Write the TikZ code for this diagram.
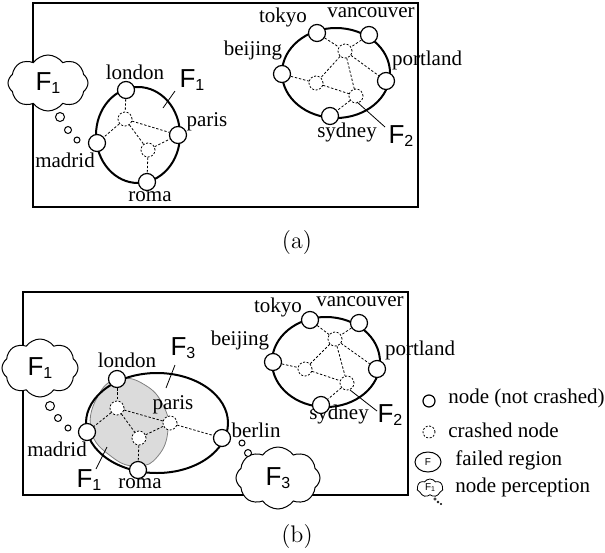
\documentclass[tikz,border=0pt]{standalone}
\usepackage{fontspec}
\setsansfont{Liberation Sans}
\newfontfamily\lblfont{Liberation Serif}
\usetikzlibrary{shapes.symbols, shapes.geometric}

\newcommand{\fail}[1]{{\sffamily\fontsize{13}{15}\selectfont F\raisebox{-0.12em}{\fontsize{8}{9}\selectfont #1}}}
\newcommand{\smallfail}[1]{{\sffamily\fontsize{5}{6}\selectfont F\raisebox{-0.1em}{\fontsize{3.5}{4}\selectfont #1}}}

\begin{document}
\begin{tikzpicture}[
		x=0.5pt, y=-0.5pt,
		alive/.style={circle, draw, fill=white, line width=0.6pt, minimum size=8.5pt, inner sep=0pt},
		dead/.style={circle, draw, fill=white, dash pattern=on 1pt off 0.8pt, line width=0.4pt, minimum size=7pt, inner sep=0pt},
		link/.style={dash pattern=on 1.2pt off 0.9pt, line width=0.4pt},
		region/.style={line width=1pt},
		panel/.style={line width=0.7pt},
		lbl/.style={font=\lblfont\fontsize{10.5}{12}\selectfont, inner sep=0pt},
		lead/.style={line width=0.4pt},
		thought/.style={cloud, cloud puffs=8, cloud puff arc=110, draw, fill=white, line width=0.5pt, inner sep=0pt},
		bubble/.style={draw, fill=white, line width=0.5pt}
		]
		\useasboundingbox (0,0) rectangle (605,552);
		
		% ---------- (a) ----------
		\draw[panel] (33,3) rectangle (418,207);
		
		% left region
		\draw[region] (138,135) ellipse [x radius=42, y radius=48];
		\node[lbl] (la-london-l) at (135,72) {london};
		\node[lbl] (la-paris-l) at (207,122) {paris};
		\node[lbl] (la-madrid-l) at (65,160) {madrid};
		\node[lbl] (la-roma-l) at (150,197) {roma};
		\node[alive] (la-london) at (126,90) {};
		\node[alive] (la-paris) at (178,135) {};
		\node[alive] (la-madrid) at (97,143) {};
		\node[alive] (la-roma) at (147,182) {};
		\node[dead] (la-x1) at (125,119) {};
		\node[dead] (la-x2) at (148,150) {};
		\draw[link] (la-london) -- (la-x1);
		\draw[link] (la-x1) -- (la-madrid);
		\draw[link] (la-x1) -- (la-paris);
		\draw[link] (la-x1) -- (la-x2);
		\draw[link] (la-x2) -- (la-paris);
		\draw[link] (la-x2) -- (la-roma);
		\node[inner sep=0pt] (la-f1) at (192,80) {\fail{1}};
		\coordinate (la-f1-a) at (175,91);
		\coordinate (la-f1-b) at (163,108);
		\draw[lead] (la-f1-a) -- (la-f1-b);
		
		% thought of madrid
		\node[thought, minimum width=40pt, minimum height=28pt] (la-cloud) at (48,83) {\fail{1}};
		\draw[bubble] (60,117) circle (4.5);
		\draw[bubble] (68,130) circle (3.5);
		\draw[bubble] (77,140) circle (3);
		
		% right region
		\draw[region] (336,73) ellipse [x radius=54, y radius=45];
		\node[lbl] (ra-tokyo-l) at (283,17) {tokyo};
		\node[lbl] (ra-vancouver-l) at (371,13) {vancouver};
		\node[lbl] (ra-beijing-l) at (253,50) {beijing};
		\node[lbl] (ra-portland-l) at (427,60) {portland};
		\node[lbl] (ra-sydney-l) at (347,132) {sydney};
		\node[alive] (ra-tokyo) at (317,33) {};
		\node[alive] (ra-vancouver) at (369,35) {};
		\node[alive] (ra-beijing) at (282,74) {};
		\node[alive] (ra-portland) at (386,81) {};
		\node[alive] (ra-sydney) at (330,116) {};
		\node[dead] (ra-x1) at (345,51) {};
		\node[dead] (ra-x2) at (316,83) {};
		\node[dead] (ra-x3) at (356,96) {};
		\draw[link] (ra-tokyo) -- (ra-x1);
		\draw[link] (ra-vancouver) -- (ra-x1);
		\draw[link] (ra-x1) -- (ra-x2);
		\draw[link] (ra-x1) -- (ra-portland);
		\draw[link] (ra-x1) -- (ra-x3);
		\draw[link] (ra-beijing) -- (ra-x2);
		\draw[link] (ra-x2) -- (ra-x3);
		\draw[link] (ra-x3) -- (ra-sydney);
		\node[inner sep=0pt] (ra-f2) at (401,136) {\fail{2}};
		\coordinate (ra-f2-a) at (385,127);
		\coordinate (ra-f2-b) at (357,102);
		\draw[lead] (ra-f2-a) -- (ra-f2-b);
		
		\node[font=\large] (cap-a) at (297,243) {(a)};
		
		% ---------- (b) ----------
		\draw[panel] (23,292) rectangle (408,495);
		
		% left region with overlapping failure
		\fill[gray!28, draw=gray, line width=0.4pt] plot[smooth cycle, tension=0.8] coordinates {
			(120,379) (145,385) (163,405) (168,430) (158,456) (138,466) (112,457) (91,430) (99,394)};
		\draw[region] (157,423) ellipse [x radius=71, y radius=50];
		\node[lbl] (lb-london-l) at (127,360) {london};
		\node[lbl] (lb-paris-l) at (173,405) {paris};
		\node[lbl] (lb-berlin-l) at (256,430) {berlin};
		\node[lbl] (lb-madrid-l) at (57,449) {madrid};
		\node[lbl] (lb-roma-l) at (140,484) {roma};
		\node[alive] (lb-london) at (117,379) {};
		\node[alive] (lb-madrid) at (87,432) {};
		\node[alive] (lb-roma) at (138,470) {};
		\node[alive] (lb-berlin) at (222,438) {};
		\node[dead] (lb-x1) at (117,408) {};
		\node[dead] (lb-x2) at (139,438) {};
		\node[dead] (lb-paris) at (170,423) {};
		\draw[link] (lb-london) -- (lb-x1);
		\draw[link] (lb-x1) -- (lb-madrid);
		\draw[link] (lb-x1) -- (lb-x2);
		\draw[link] (lb-x1) -- (lb-paris);
		\draw[link] (lb-x2) -- (lb-paris);
		\draw[link] (lb-x2) -- (lb-roma);
		\draw[link] (lb-paris) -- (lb-berlin);
		\node[inner sep=0pt] (lb-f3) at (183,348) {\fail{3}};
		\coordinate (lb-f3-a) at (175,365);
		\coordinate (lb-f3-b) at (166,388);
		\draw[lead] (lb-f3-a) -- (lb-f3-b);
		\node[inner sep=0pt] (lb-f1) at (89,480) {\fail{1}};
		\coordinate (lb-f1-a) at (96,469);
		\coordinate (lb-f1-b) at (107,447);
		\draw[lead] (lb-f1-a) -- (lb-f1-b);
		
		% thoughts of madrid and berlin
		\node[thought, minimum width=38pt, minimum height=29pt] (lb-cloud1) at (40,368) {\fail{1}};
		\draw[bubble] (50,406) circle (4.5);
		\draw[bubble] (58,418) circle (3.5);
		\draw[bubble] (68,428) circle (3);
		\node[thought, minimum width=42pt, minimum height=31pt] (lb-cloud3) at (278,478) {\fail{3}};
		\draw[bubble] (242,443) circle (3);
		\draw[bubble] (248,453) circle (3.5);
		
		% right region
		\draw[region] (326,362) ellipse [x radius=54, y radius=45];
		\node[lbl] (rb-tokyo-l) at (278,307) {tokyo};
		\node[lbl] (rb-vancouver-l) at (360,302) {vancouver};
		\node[lbl] (rb-beijing-l) at (240,340) {beijing};
		\node[lbl] (rb-portland-l) at (420,350) {portland};
		\node[lbl] (rb-sydney-l) at (339,414) {sydney};
		\node[alive] (rb-tokyo) at (310,320) {};
		\node[alive] (rb-vancouver) at (359,323) {};
		\node[alive] (rb-beijing) at (273,362) {};
		\node[alive] (rb-portland) at (377,369) {};
		\node[alive] (rb-sydney) at (321,405) {};
		\node[dead] (rb-x1) at (335,339) {};
		\node[dead] (rb-x2) at (305,369) {};
		\node[dead] (rb-x3) at (347,383) {};
		\draw[link] (rb-tokyo) -- (rb-x1);
		\draw[link] (rb-vancouver) -- (rb-x1);
		\draw[link] (rb-x1) -- (rb-x2);
		\draw[link] (rb-x1) -- (rb-portland);
		\draw[link] (rb-x1) -- (rb-x3);
		\draw[link] (rb-beijing) -- (rb-x2);
		\draw[link] (rb-x2) -- (rb-x3);
		\draw[link] (rb-x3) -- (rb-sydney);
		\node[inner sep=0pt] (rb-f2) at (390,415) {\fail{2}};
		\coordinate (rb-f2-a) at (377,411);
		\coordinate (rb-f2-b) at (350,390);
		\draw[lead] (rb-f2-a) -- (rb-f2-b);
		
		% legend
		\node[alive, minimum size=6pt] (key-alive) at (429,401) {};
		\node[lbl, anchor=west] (key-alive-l) at (448,398) {node (not crashed)};
		\node[dead, minimum size=6pt] (key-dead) at (429,432) {};
		\node[lbl, anchor=west] (key-dead-l) at (448,430) {crashed node};
		\node[ellipse, draw, line width=0.5pt, minimum width=13pt, minimum height=10pt, inner sep=0pt,
			font=\sffamily\fontsize{5}{6}\selectfont] (key-region) at (428,462) {F};
		\node[lbl, anchor=west] (key-region-l) at (455,460) {failed region};
		\node[thought, cloud puffs=7, line width=0.4pt, minimum width=13pt, minimum height=9pt] (key-cloud) at (430,488) {\smallfail{1}};
		\draw[bubble, line width=0.3pt] (435,499) circle (1.3);
		\draw[bubble, line width=0.3pt] (438,502) circle (1);
		\draw[bubble, line width=0.3pt] (441,504) circle (0.8);
		\node[lbl, anchor=west] (key-cloud-l) at (455,487) {node perception};
		
		\node[font=\large] (cap-b) at (297,537) {(b)};
		
	\end{tikzpicture}
\end{document}
